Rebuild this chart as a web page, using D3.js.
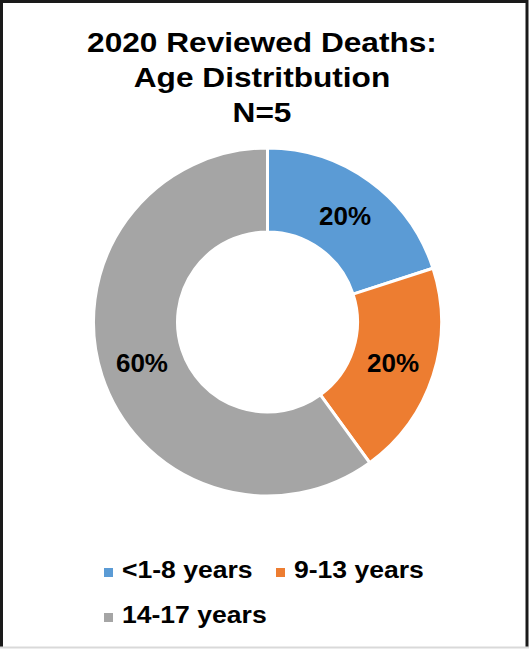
<!DOCTYPE html>
<html>
<head>
<meta charset="utf-8">
<script src="https://cdn.jsdelivr.net/npm/d3@7"></script>
<style>
  body { margin: 0; background: #fff; }
  svg { display: block; font-family: "Liberation Sans", Arial, sans-serif; }
</style>
</head>
<body>
<div id="chart"></div>
<script>
// chart data
const categories = ["<1-8 years", "9-13 years", "14-17 years"];
const values = [20, 20, 60];
const colors = ["#5B9BD5", "#ED7D31", "#A5A5A5"];
const titleLines = ["2020 Reviewed Deaths:", "Age Distritbution", "N=5"];

const width = 529, height = 650;
const cx = 267.5, cy = 322;
const outerR = 174, innerR = 90;
const stretch = 1.13; // text in the original is a little wide

const svg = d3.select("#chart")
    .append("svg")
    .attr("width", width)
    .attr("height", height);

// frame
svg.append("rect")
    .attr("width", width)
    .attr("height", height)
    .attr("fill", "#fff");
svg.append("path")
    .attr("d", `M1.5,${height - 3} V1.5 H${width - 2} V${height - 3}`)
    .attr("fill", "none")
    .attr("stroke", "#1a1a1a")
    .attr("stroke-width", 3);
svg.append("line")
    .attr("x1", 0).attr("x2", width)
    .attr("y1", height - 2.5).attr("y2", height - 2.5)
    .attr("stroke", "#d9d9d9")
    .attr("stroke-width", 2);

// title (sits a bit left of the donut centre)
svg.append("g")
    .attr("transform", `translate(262, 0) scale(${stretch}, 1)`)
    .selectAll("text")
    .data(titleLines)
    .join("text")
    .attr("x", 0)
    .attr("y", (d, i) => 52 + i * 35)
    .attr("text-anchor", "middle")
    .style("font-size", "28px")
    .style("font-weight", "bold")
    .text(d => d);

// donut
const data = categories.map((c, i) => ({ label: c, value: values[i], color: colors[i] }));
const pie = d3.pie().value(d => d.value).sort(null);
const arc = d3.arc().innerRadius(innerR).outerRadius(outerR);
const arcs = pie(data);

const g = svg.append("g")
    .attr("transform", `translate(${cx}, ${cy})`);

g.selectAll("path")
    .data(arcs)
    .join("path")
    .attr("d", arc)
    .attr("fill", d => d.data.color)
    .attr("stroke", "#fff")
    .attr("stroke-width", 3);

const total = d3.sum(values);
g.selectAll(".label")
    .data(arcs)
    .join("text")
    .attr("class", "label")
    .attr("transform", d => `translate(${arc.centroid(d)})`)
    .attr("text-anchor", "middle")
    .attr("dy", "0.36em")
    .style("font-size", "26px")
    .style("font-weight", "bold")
    .text(d => Math.round(d.data.value / total * 100) + "%");

// legend: two items per row
const legend = svg.append("g");
const colX = [104, 276];
const item = legend.selectAll("g")
    .data(data)
    .join("g")
    .attr("transform", (d, i) => `translate(${colX[i % 2]}, ${578 + Math.floor(i / 2) * 45})`);

item.append("rect")
    .attr("x", 0)
    .attr("y", -10)
    .attr("width", 9)
    .attr("height", 9)
    .attr("fill", d => d.color);

item.append("text")
    .attr("transform", `translate(18, 0) scale(${stretch}, 1)`)
    .style("font-size", "23.5px")
    .style("font-weight", "bold")
    .text(d => d.label);
</script>
</body>
</html>
